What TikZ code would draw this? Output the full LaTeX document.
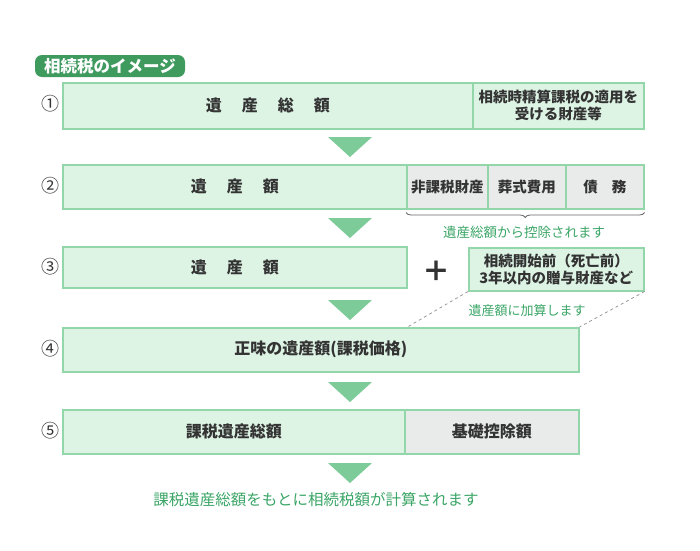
\documentclass[tikz,border=0pt]{standalone}
\usepackage{fontspec}
\setmainfont{Noto Sans CJK JP}
\usetikzlibrary{positioning}
\usetikzlibrary{decorations.pathreplacing}
\definecolor{boxLine}{HTML}{92D6AA}
\definecolor{boxFill}{HTML}{DDF4E5}
\definecolor{cellGray}{HTML}{E9EBEA}
\definecolor{arrowFill}{HTML}{7CCB98}
\definecolor{noteGreen}{HTML}{3AA566}
\definecolor{titleFill}{HTML}{3F9A5E}
\definecolor{textGray}{HTML}{333333}
\newcommand{\gap}{\hspace{20pt}}
\tikzset{
  greenbox/.style={draw=boxLine, fill=boxFill, line width=1.5pt, inner sep=2pt, anchor=north west,
    text=textGray, align=center, font=\fontsize{16}{19}\selectfont\bfseries},
  graybox/.style={greenbox, fill=cellGray},
  smallbox/.style={font=\fontsize{14.5}{17}\selectfont\bfseries},
  stepnum/.style={text=textGray, font=\fontsize{18}{20}\selectfont},
  note/.style={text=noteGreen, font=\fontsize{13.5}{16}\selectfont},
  downarrow/.style={fill=arrowFill},
  bracestyle/.style={draw=black!60, line width=0.8pt, decorate, decoration={brace, amplitude=5pt}},
  dashline/.style={draw=black!40, line width=0.8pt, dashed}
}
\begin{document}
\begin{tikzpicture}[x=1pt, y=-1pt]
\useasboundingbox (0,0) rectangle (700,550);

% title
\node[fill=titleFill, text=white, rounded corners=7pt, minimum width=150pt, minimum height=22pt,
  inner sep=2pt, font=\fontsize{16.5}{19}\selectfont\bfseries] (title) at (110,66) {相続税のイメージ};

% step numbers
\node[stepnum] (n1) at (50,104) {①};
\node[stepnum] (n2) at (50,186) {②};
\node[stepnum] (n3) at (50,267) {③};
\node[stepnum] (n4) at (50,349) {④};
\node[stepnum] (n5) at (50,431) {⑤};

% row 1
\node[greenbox, minimum width=410pt, minimum height=46pt] (total) at (62,82) {遺\gap 産\gap 総\gap 額};
\node[greenbox, smallbox, minimum width=171pt, minimum height=46pt] (settle) at (472,82) {相続時精算課税の適用を\\受ける財産等};

% row 2
\node[greenbox, minimum width=344pt, minimum height=44pt] (estate) at (62,164) {遺\gap 産\gap 額};
\node[graybox, smallbox, minimum width=81pt, minimum height=44pt] (exempt) at (406,164) {非課税財産};
\node[graybox, smallbox, minimum width=78pt, minimum height=44pt] (funeral) at (487,164) {葬式費用};
\node[graybox, smallbox, minimum width=78pt, minimum height=44pt] (debt) at (565,164) {債\hspace{14pt}務};
\draw[bracestyle] ([yshift=-3pt]debt.south east) -- ([yshift=-3pt]exempt.south west);
\node[note] (deductnote) at (524,232) {遺産総額から控除されます};

% row 3
\node[greenbox, minimum width=344pt, minimum height=41pt] (estatec) at (62,246) {遺\gap 産\gap 額};
\node[text=textGray, font=\fontsize{28}{28}\selectfont\bfseries] (plus) at (436,271) {＋};
\node[greenbox, smallbox, minimum width=175pt, minimum height=43pt] (gift) at (468,247) {相続開始前（死亡前）\\3年以内の贈与財産など};
\node[note, font=\fontsize{13}{16}\selectfont] (addnote) at (527,311) {遺産額に加算します};

% row 4
\node[greenbox, minimum width=516pt, minimum height=44pt] (net) at (62,327) {正味の遺産額(課税価格)};
\draw[dashline] (gift.south west) -- (estatec.east |- net.north);
\draw[dashline] (gift.south east) -- (net.north east);

% row 5
\node[greenbox, minimum width=342pt, minimum height=44pt] (taxable) at (62,409) {課税遺産総額};
\node[graybox, minimum width=174pt, minimum height=44pt] (basic) at (404,409) {基礎控除額};

% arrows
\foreach \y in {137,218,300,382,463}
  \fill[downarrow] (328,\y) -- (372,\y) -- (350,\y+20) -- cycle;

\node[note, font=\fontsize{15.5}{18}\selectfont] (final) at (316,500) {課税遺産総額をもとに相続税額が計算されます};
\end{tikzpicture}
\end{document}
